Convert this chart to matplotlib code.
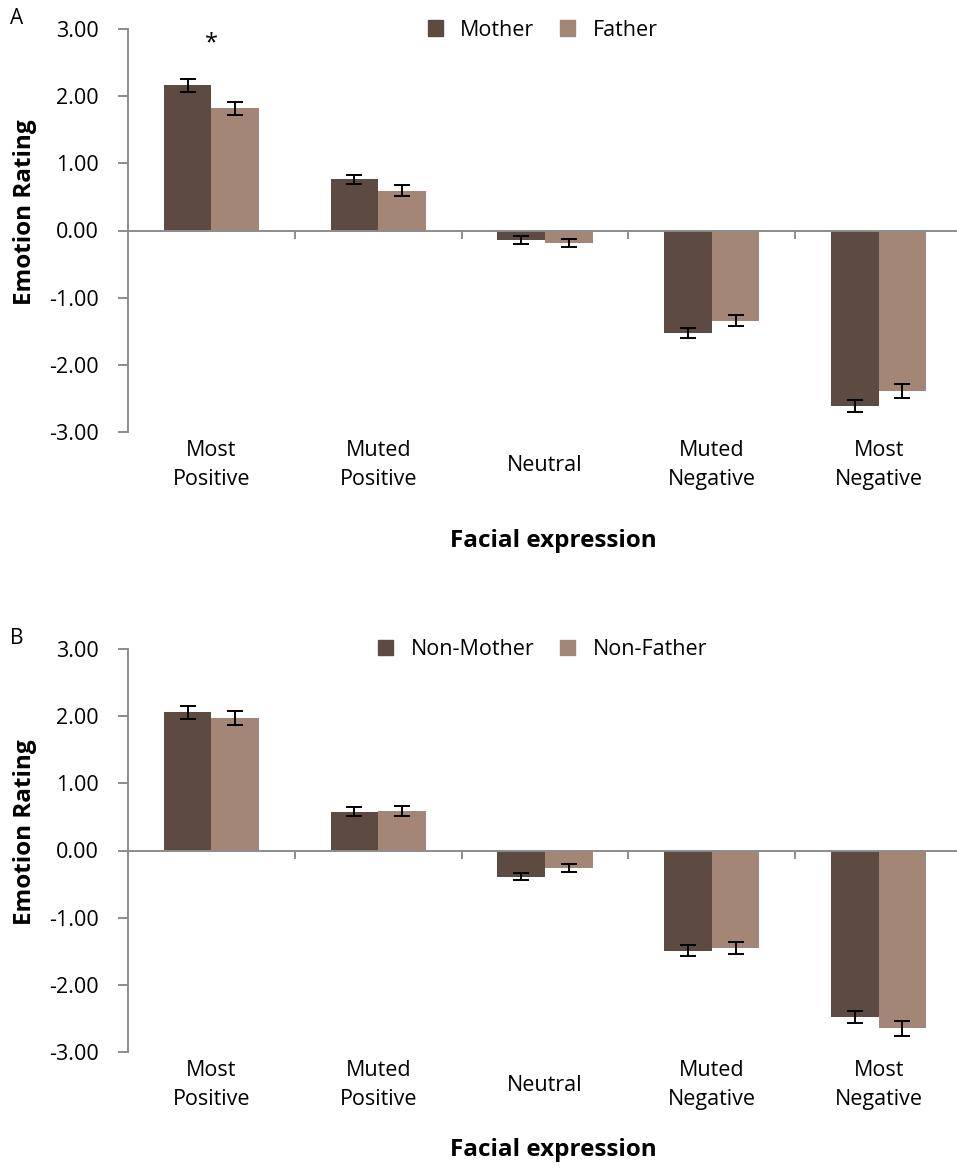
import numpy as np
import matplotlib.pyplot as plt
from matplotlib.ticker import FixedLocator, FormatStrFormatter
from matplotlib.patches import Patch

plt.rcParams['font.family'] = ['Open Sans', 'DejaVu Sans']
plt.rcParams['axes.unicode_minus'] = False

categories = ["Most\nPositive", "Muted\nPositive", "Neutral", "Muted\nNegative", "Most\nNegative"]

# panel A: parents of own child
mother = [2.16, 0.76, -0.14, -1.53, -2.61]
mother_err = [0.10, 0.07, 0.06, 0.075, 0.09]
father = [1.82, 0.59, -0.19, -1.34, -2.39]
father_err = [0.10, 0.08, 0.06, 0.08, 0.10]

# panel B: non-parents
non_mother = [2.06, 0.58, -0.39, -1.49, -2.48]
non_mother_err = [0.095, 0.07, 0.055, 0.077, 0.095]
non_father = [1.97, 0.59, -0.26, -1.45, -2.65]
non_father_err = [0.10, 0.075, 0.06, 0.085, 0.105]

dark = "#5d4a40"
light = "#a38676"
grey = "#8c8c8c"

W, H = 957, 1168
fig = plt.figure(figsize=(W / 100, H / 100), dpi=100)


def panel(top_px, bottom_px, title_px, s1, e1, s2, e2, names, letter, star):
    ax = fig.add_axes([128 / W, 1 - bottom_px / H, 834 / W, (bottom_px - top_px) / H])
    x = np.arange(len(categories))
    bw = 0.285
    ax.bar(x - bw / 2, s1, bw, color=dark, yerr=e1, capsize=5.5,
           error_kw=dict(elinewidth=1.4, capthick=1.4, ecolor="black"))
    ax.bar(x + bw / 2, s2, bw, color=light, yerr=e2, capsize=5.5,
           error_kw=dict(elinewidth=1.4, capthick=1.4, ecolor="black"))
    ax.set_xlim(-0.5, len(categories) - 0.5)
    ax.set_ylim(-3, 3)
    ax.set_yticks(np.arange(-3, 4, 1))
    ax.yaxis.set_major_formatter(FormatStrFormatter("%.2f"))
    ax.tick_params(axis="y", length=7, width=1.4, color=grey, pad=14, labelsize=15.5)
    ax.spines["top"].set_visible(False)
    ax.spines["right"].set_visible(False)
    ax.spines["left"].set_color(grey)
    ax.spines["left"].set_linewidth(1.4)
    ax.spines["bottom"].set_position(("data", 0))
    ax.spines["bottom"].set_color(grey)
    ax.spines["bottom"].set_linewidth(1.4)
    ax.set_xticks([])
    ax.xaxis.set_minor_locator(FixedLocator(x[:-1] + 0.5))
    ax.tick_params(axis="x", which="minor", length=6, width=1.4, color=grey, direction="out")
    for xi, lab in zip(x, categories):
        ax.text(xi, -0.082, lab, transform=ax.get_xaxis_transform(),
                ha="center", va="center", fontsize=15.5, linespacing=1.45)
    if star:
        ax.text(0, 2.78, "*", ha="center", va="center", fontsize=17)

    fig.text(25 / W, 1 - (top_px + 183) / H, "Emotion Rating", rotation=90,
             ha="center", va="center", fontsize=17.5, fontweight="bold")
    fig.text(553 / W, 1 - title_px / H, "Facial expression",
             ha="center", va="center", fontsize=17.5, fontweight="bold")
    fig.text(10 / W, 1 - (top_px - 10) / H, letter, ha="left", va="center", fontsize=15)

    handles = [Patch(color=dark, label=names[0]), Patch(color=light, label=names[1])]
    fig.legend(handles=handles, loc="center", ncol=2, frameon=False, fontsize=15.5,
               bbox_to_anchor=(0.567, 1 - (top_px + 1) / H),
               handlelength=0.7, handleheight=0.7, handletextpad=0.8, columnspacing=1.2)
    return ax


panel(29, 432, 541, mother, mother_err, father, father_err, ["Mother", "Father"], "A", True)
panel(649, 1052, 1150, non_mother, non_mother_err, non_father, non_father_err,
      ["Non-Mother", "Non-Father"], "B", False)

fig.savefig("out.png", dpi=100)
